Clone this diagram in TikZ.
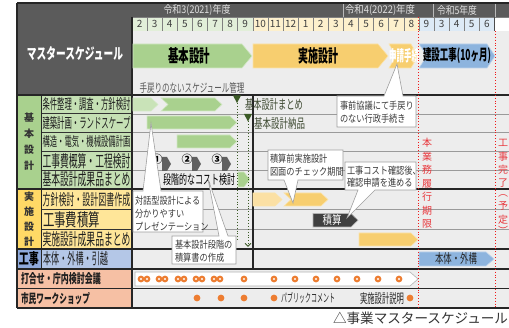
\documentclass[tikz,border=0pt]{standalone}
\usepackage{fontspec}
\usepackage{graphicx}
\newfontfamily\cjk{Noto Sans CJK JP}
\newfontfamily\cjkc[FakeStretch=0.82]{Noto Sans CJK JP}
\usetikzlibrary{arrows.meta}
\definecolor{hdr}{HTML}{5B5B5B}
\definecolor{bg}{HTML}{EDEDED}
\definecolor{mgreen}{HTML}{E2EFD9}
\definecolor{mcream}{HTML}{FDF0CD}
\definecolor{mblue}{HTML}{DDEAF6}
\definecolor{catg}{HTML}{A9D18E}
\definecolor{labg}{HTML}{C5E0B4}
\definecolor{caty}{HTML}{FFD966}
\definecolor{laby}{HTML}{FFE699}
\definecolor{catb}{HTML}{8FAADC}
\definecolor{labb}{HTML}{B4C7E7}
\definecolor{salm}{HTML}{F6C0A4}
\definecolor{gbar}{HTML}{A9D18E}
\definecolor{gedge}{HTML}{D3E8C6}
\definecolor{gpale}{HTML}{C9E3B8}
\definecolor{ybar}{HTML}{F7CE6F}
\definecolor{yedge}{HTML}{FBE3AA}
\definecolor{ypale}{HTML}{FBE0A4}
\definecolor{bbar}{HTML}{8DB4DE}
\definecolor{bedge}{HTML}{BCD3EC}
\definecolor{dkbar}{HTML}{404040}
\definecolor{dkchev}{HTML}{606060}
\definecolor{orng}{HTML}{ED7D31}
\definecolor{dgreen}{HTML}{3B5A26}
\definecolor{rline}{HTML}{F01818}
\definecolor{rtext}{HTML}{E8383D}
\definecolor{txtg}{HTML}{3A3A3A}
\definecolor{olive}{HTML}{3F4B33}
\definecolor{gridg}{HTML}{9A9A9A}
\newcommand{\fb}[3]{\resizebox{#1pt}{#2pt}{#3}}
\newcommand{\arr}[6]{\path[#1] (#2,#4) -- ({#3-#6},#4) -- (#3,{(#4+#5)/2}) -- ({#3-#6},#5) -- (#2,#5) -- cycle;}
\newcommand{\chev}[6]{\path[#1] (#2,#4) -- ({#3-#6},#4) -- (#3,{(#4+#5)/2}) -- ({#3-#6},#5) -- (#2,#5) -- ({#2+#6},{(#4+#5)/2}) -- cycle;}
\tikzset{
  tx/.style={font=\cjk, inner sep=0pt, outer sep=0pt},
  lbl/.style={tx, anchor=west, text=black!88},
  cattx/.style={tx, font=\cjk\bfseries\fontsize{10}{10}\selectfont, text=black!80},
  call/.style={fill=white, draw=gray!75, line width=0.6pt},
  calltx/.style={tx, anchor=west, align=left, text=txtg, font=\cjkc\fontsize{10}{12.6}\selectfont},
  redtx/.style={tx, text=rtext, font=\cjk\fontsize{10}{10}\selectfont},
  ring/.style={fill=orng},
  thick line/.style={line width=1.2pt, draw=black!85},
  thin grid/.style={line width=0.5pt, draw=gridg},
  reddot/.style={draw=rline, dotted, line width=0.9pt},
  gdot/.style={draw=dgreen, dotted, line width=0.9pt},
}
\begin{document}
\begin{tikzpicture}[x=1pt,y=-1pt]
\useasboundingbox (0,0) rectangle (509,328);
% ---------- header ----------
\fill[hdr] (17,3) rectangle (509,17);
\fill[hdr] (17,17) rectangle (132,95);
\foreach \xs in {343,433,495} {\draw[gray!55, line width=0.5pt] (\xs,3) -- (\xs,17);}
\node[tx, text=gray!25] (y3) at (197,10) {\fb{67}{9}{令和3(2021)年度}};
\node[tx, text=gray!25] (y4) at (380,10) {\fb{70}{9}{令和4(2022)年度}};
\node[tx, text=gray!25] (y5) at (457,10) {\fb{40}{9}{令和5年度}};
\foreach \m [count=\i from 0] in {2,3,4,5,6,7,8,9,10,11,12,1,2,3,4,5,6,7,8,9,3,4,5,6} {
  \pgfmathsetmacro\xa{132+\i*15.1}
  \ifnum\i<8 \def\mc{mgreen}\else\ifnum\i<19 \def\mc{mcream}\else\def\mc{mblue}\fi\fi
  \path[fill=\mc, draw=gray, line width=0.5pt] (\xa,17) rectangle ++(15.1,14);
  \node[tx, text=black!75, font=\cjk\fontsize{10}{10}\selectfont] (m\i) at ({\xa+7.55},24.3) {\m};
}
\path[fill=white, draw=gray, line width=0.5pt] (494.4,17) rectangle (509,31);
\node[tx, text=white] (master) at (75,54) {\fb{96}{13}{\bfseries マスタースケジュール}};
% ---------- backgrounds ----------
\fill[bg] (132,31) rectangle (509,95);
\fill[bg] (132,95) rectangle (509,308);
% left category / label cells
\fill[catg] (17,95) rectangle (41,189);
\fill[labg] (41,95) rectangle (132,189);
\fill[caty] (17,189) rectangle (41,249);
\fill[laby] (41,189) rectangle (132,249);
\fill[catb] (17,249) rectangle (41,269);
\fill[labb] (41,249) rectangle (132,269);
\fill[salm] (17,269) rectangle (132,308);
% grid lines
\foreach \yy in {113.8,132.6,151.4,170.2,209.5,229.5} {
  \draw[thin grid] (132,\yy) -- (509,\yy);
  \draw[line width=0.6pt, black!80] (41,\yy) -- (132,\yy);
}
\foreach \yy in {95,189,249,269,288.5,308} {\draw[thick line] (17,\yy) -- (509,\yy);}
\draw[thick line] (17,3) -- (509,3);
\draw[thick line] (17,3) -- (17,308);
\draw[thick line] (132,17) -- (132,308);
\draw[line width=0.7pt, black!85] (41,95) -- (41,269);
\draw[thick line] (253,95) -- (253,269);
\draw[line width=0.8pt, black!70] (494.4,17) -- (494.4,31);
% ---------- labels ----------
\foreach \ch/\yy [count=\k] in {基/118,本/134,設/150,計/166} {\node[cattx] (ck\k) at (29,\yy) {\ch};}
\foreach \ch/\yy [count=\k] in {実/197,施/212,設/227,計/242} {\node[cattx] (cj\k) at (29,\yy) {\ch};}
\node[tx, text=black] (ckoji) at (29,259) {\fb{20}{13}{\bfseries 工事}};
\node[lbl] (l1) at (42.5,104.4) {\fb{88}{12}{条件整理・調査・方針検討}};
\node[lbl] (l2) at (42.5,123.2) {\fb{88}{12}{建築計画・ランドスケープ}};
\node[lbl] (l3) at (42.5,142) {\fb{88}{11}{構造・電気・機械設備計画}};
\node[lbl] (l4) at (42.5,160.8) {\fb{88}{14}{工事費概算・工程検討}};
\node[lbl] (l5) at (42.5,179.6) {\fb{88}{14}{基本設計成果品まとめ}};
\node[lbl] (l6) at (42.5,199.3) {\fb{88}{13}{方針検討・設計図書作成}};
\node[lbl] (l7) at (43,219.5) {\fb{57}{15}{工事費積算}};
\node[lbl] (l8) at (42.5,239.3) {\fb{88}{14}{実施設計成果品まとめ}};
\node[lbl] (l9) at (43,259) {\fb{65}{13}{本体・外構・引越}};
\node[lbl] (l10) at (21,278.8) {\fb{80}{11}{\bfseries 打合せ・庁内検討会議}};
\node[lbl] (l11) at (21,298.3) {\fb{69}{11}{\bfseries 市民ワークショップ}};
% ---------- master row ----------
\arr{fill=gbar, draw=gedge, line width=0.6pt}{133}{252}{44}{68}{10}
\arr{fill=ybar, draw=yedge, line width=0.6pt}{253}{388}{44}{68}{10}
\chev{fill=ybar, draw=yedge, line width=0.6pt}{389}{418}{44}{68}{7}
\chev{fill=bbar, draw=bedge, line width=0.6pt}{419}{495}{44}{68}{8}
\node[tx] (kihon) at (189,56) {\fb{42}{15}{\bfseries 基本設計}};
\node[tx] (jisshi) at (318,56) {\fb{40}{15}{\bfseries 実施設計}};
\node[tx, text=white] (shinsei) at (404,56) {\fb{30}{13}{\bfseries 申請手続}};
\node[tx] (kensetsu) at (457,56) {\fb{68}{13}{\bfseries 建設工事(10ヶ月)}};
\node[tx, text=black!65] (temodori) at (192,88) {\fb{105}{10}{手戻りのないスケジュール管理}};
% ---------- 基本設計 bars ----------
\arr{fill=gpale, draw=gedge, line width=0.6pt}{133}{158}{98}{111}{7}
\chev{fill=gbar, draw=gedge, line width=0.6pt}{161}{222}{98}{111}{7}
\arr{fill=gbar, draw=gedge, line width=0.6pt}{147}{237}{116}{129}{7}
\arr{fill=gbar, draw=gedge, line width=0.6pt}{177}{237}{135}{148}{7}
\arr{fill=gbar, draw=gedge, line width=0.6pt}{238}{250}{172}{187}{6}
\foreach \xx in {162,192,222} {\arr{fill=dkchev}{\xx}{\xx+9}{157}{171}{4}}
\node[tx, font=\cjk\bfseries\fontsize{11}{11}\selectfont] (n1) at (157,159.5) {①};
\node[tx, font=\cjk\bfseries\fontsize{11}{11}\selectfont] (n2) at (187,159.5) {②};
\node[tx, font=\cjk\bfseries\fontsize{11}{11}\selectfont] (n3) at (217,159.5) {③};
\node[tx, text=black] (cost) at (199,180) {\fb{72}{11}{段階的なコスト検討}};
% milestones
\fill[dgreen] (233,95.5) -- (241,95.5) -- (237,103) -- cycle;
\fill[dgreen] (244,114) -- (252,114) -- (248,121.5) -- cycle;
\draw[gdot] (237,103) -- (237,240);
\draw[gdot, -{Straight Barb[length=3pt,width=6pt]}] (248,121.5) -- (248,247);
\node[lbl, text=olive] (matome) at (245,104.4) {\fb{58}{11}{基本設計まとめ}};
\node[lbl, text=olive] (nouhin) at (254,123.2) {\fb{51}{11}{基本設計納品}};
% ---------- 実施設計 bars ----------
\arr{fill=ypale, draw=yedge, line width=0.6pt}{253}{282}{193}{206}{7}
\chev{fill=ybar, draw=yedge, line width=0.6pt}{284}{328}{193}{206}{7}
\arr{fill=dkbar, draw=gray!60, line width=0.6pt}{313}{358}{213.5}{227}{7}
\node[tx, text=white] (sekisan) at (332,220.3) {\fb{19}{10}{積算}};
\arr{fill=ybar, draw=yedge, line width=0.6pt}{359}{418}{233}{246}{7}
% ---------- 工事 ----------
\arr{fill=bbar, draw=bedge, line width=0.6pt}{419}{494}{252}{266}{8}
\node[tx, text=black!85] (hontai) at (456,259) {\fb{42}{11}{本体・外構}};
% ---------- 打合せ ----------
\arr{fill=white, draw=gray!60, line width=0.6pt}{135}{418}{272}{286}{8}
\foreach \xx in {141,147,159,165,178,184,196,202,214,220,244,274,295,316,337,357,378,399} {
  \fill[orng] (\xx,279) circle (3.4);
  \fill[white] (\xx,279) circle (1.2);
}
% ---------- 市民ワークショップ ----------
\foreach \xx in {197,221,244,274,410} {\fill[orng] (\xx,298) circle (3.4);}
\node[lbl, text=black!85] (pubcom) at (281,298.3) {\fb{54}{10}{パブリックコメント}};
\node[lbl, text=black!85] (setsumei) at (360,298.3) {\fb{44}{11}{実施設計説明}};
% ---------- red deadlines ----------
\draw[reddot] (418,17) -- (418,308);
\draw[reddot] (495,31) -- (495,308);
\foreach \ch/\yy [count=\k] in {本/143,業/156.5,務/170,履/183.5,行/197,期/210.5,限/224} {\node[redtx] (ra\k) at (427,\yy) {\ch};}
\foreach \ch/\yy [count=\k] in {工/143,事/156.5,完/170,了/183.5,︵/196,予/206,定/219.5,︶/230} {\node[redtx] (rb\k) at (503,\yy) {\ch};}
% ---------- callouts ----------
\path[call] (133,191) -- (143,191) -- (151,123) -- (161,191) -- (203,191) -- (203,232) -- (133,232) -- cycle;
\node[calltx] (ca) at (135,213.5) {対話型設計による\\分かりやすい\\プレゼンテーション};
\path[call] (172,236) -- (219,236) -- (208,179) -- (228,236) -- (236,236) -- (236,264) -- (172,264) -- cycle;
\node[calltx] (cb) at (175,251.5) {基本設計段階の\\積算書の作成};
\path[call] (337,96) -- (384,96) -- (397,64) -- (403,96) -- (416,96) -- (416,127) -- (337,127) -- cycle;
\node[calltx] (cc) at (340,112) {事前協議にて手戻り\\のない行政手続き};
\path[call] (268,150) -- (343,150) -- (343,180) -- (298,180) -- (293,203) -- (284,180) -- (268,180) -- cycle;
\node[calltx] (cd) at (270,165) {積算前実施設計\\図面のチェック期間};
\path[call] (345,162) -- (416,162) -- (416,190) -- (375,190) -- (347,218) -- (358,190) -- (345,190) -- cycle;
\node[calltx] (ce) at (347,176.5) {工事コスト確認後、\\確認申請を進める};
% ---------- caption ----------
\node[tx, text=black!80, anchor=east] (cap) at (508,318) {\fb{175}{11.5}{△事業マスタースケジュール}};
\end{tikzpicture}
\end{document}
